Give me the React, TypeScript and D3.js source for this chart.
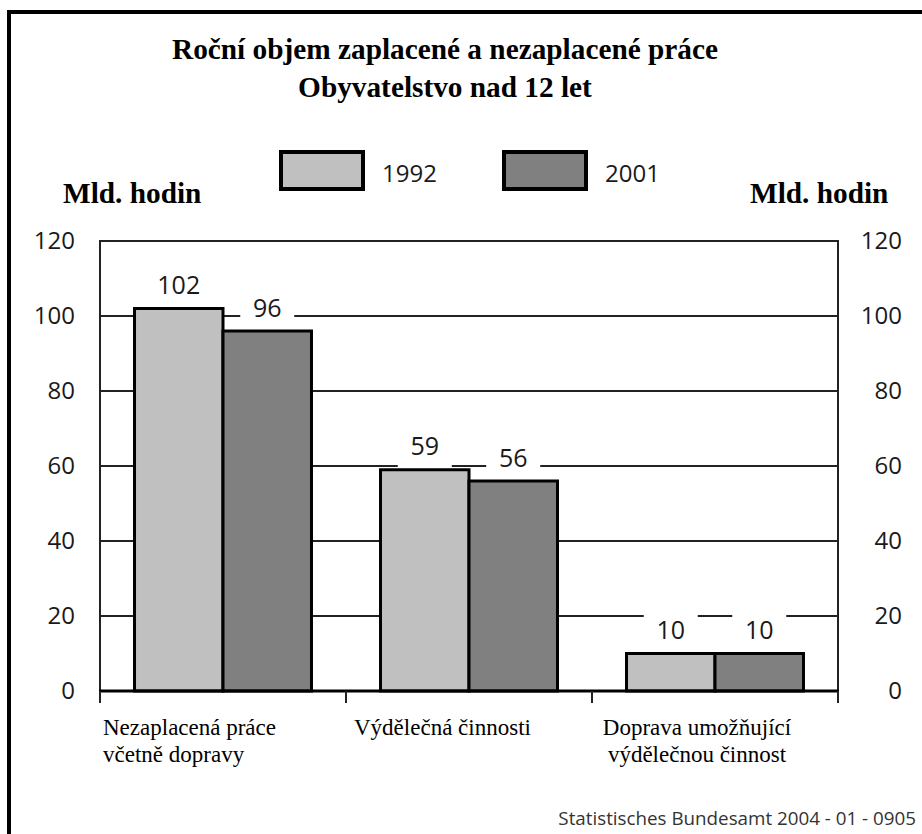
import React from "react";
import * as d3 from "d3";

const categories = [
  ["Nezaplacená práce", "včetně dopravy"],
  ["Výdělečná činnosti"],
  ["Doprava umožňující", "výdělečnou činnost"],
];
const series = ["1992", "2001"];
const values1992 = [102, 59, 10];
const values2001 = [96, 56, 10];
const yTicks = [0, 20, 40, 60, 80, 100, 120];
const titleLines = ["Roční objem zaplacené a nezaplacené práce", "Obyvatelstvo nad 12 let"];
const axisTitle = "Mld. hodin";
const source = "Statistisches Bundesamt 2004 - 01 - 0905";

const W = 922;
const H = 834;
const fills = ["#c0c0c0", "#808080"];
const sans = "'Open Sans', 'Noto Sans', sans-serif";
const serif = "'Liberation Serif', 'Times New Roman', serif";
const ink = "#1a1a1a";

export default function App() {
  const catKeys = categories.map((c) => c.join(" "));
  const x = d3.scaleBand<string>().domain(catKeys).range([100, 838]).padding(0);
  const xi = d3.scaleBand<string>().domain(series).range([0, x.bandwidth()]).paddingInner(0).paddingOuter(0.39);
  const y = d3.scaleLinear().domain([0, 120]).range([691, 241]);
  const data = [values1992, values2001];
  const boundaries = [...catKeys.map((k) => x(k)!), 838];

  const bars: JSX.Element[] = [];
  const labels: JSX.Element[] = [];
  catKeys.forEach((k, ci) => {
    series.forEach((s, si) => {
      const v = data[si][ci];
      const bx = x(k)! + xi(s)!;
      const bw = xi.bandwidth();
      const top = y(v);
      bars.push(
        <rect key={`b${ci}${si}`} x={bx} y={top} width={bw} height={y(0) - top}
          fill={fills[si]} stroke="#000" strokeWidth={3} />
      );
      const cx = bx + bw / 2;
      const base = top - 14.5;
      labels.push(
        <g key={`l${ci}${si}`}>
          <rect x={cx - 27} y={base - 27} width={54} height={top - 2 - (base - 27)} fill="#fff" />
          <text x={cx} y={base} textAnchor="middle" fontFamily={sans} fontSize={25} fill={ink}>{v}</text>
        </g>
      );
    });
  });

  return (
    <svg width={W} height={H} style={{ position: "absolute", left: 0, top: 0, background: "#fff" }}>
      <rect x={0} y={0} width={W} height={H} fill="#fff" />
      <path d={`M9,${H} V12 H${W}`} fill="none" stroke="#000" strokeWidth={4} />

      {titleLines.map((t, i) => (
        <text key={t} x={445} y={59 + i * 38} textAnchor="middle" fontFamily={serif}
          fontWeight="bold" fontSize={29.3} fill="#000">{t}</text>
      ))}

      {series.map((s, i) => (
        <g key={s} transform={`translate(${281 + i * 223},152)`}>
          <rect x={0} y={0} width={82} height={37} fill={fills[i]} stroke="#000" strokeWidth={4} />
          <text x={101} y={30} fontFamily={sans} fontSize={24} fill={ink}>{s}</text>
        </g>
      ))}

      <text x={63} y={203} fontFamily={serif} fontWeight="bold" fontSize={29.3} fill="#000">{axisTitle}</text>
      <text x={750} y={203} fontFamily={serif} fontWeight="bold" fontSize={29.3} fill="#000">{axisTitle}</text>

      {yTicks.filter((t) => t > 0 && t < 120).map((t) => (
        <line key={`g${t}`} x1={100} x2={838} y1={y(t)} y2={y(t)} stroke="#222" strokeWidth={2} />
      ))}
      <path d={`M100,${y(0)} V${y(120)} H838 V${y(0)}`} fill="none" stroke="#222" strokeWidth={2} />

      {bars}
      {labels}

      <line x1={99} x2={839} y1={y(0)} y2={y(0)} stroke="#000" strokeWidth={3} />
      {boundaries.map((b, i) => (
        <line key={`t${i}`} x1={b} x2={b} y1={y(0)} y2={y(0) + 12} stroke="#222" strokeWidth={2} />
      ))}

      {yTicks.map((t) => (
        <g key={`yt${t}`}>
          <text x={75} y={y(t)} dy="0.35em" textAnchor="end" fontFamily={sans} fontSize={24} fill={ink}>{t}</text>
          <text x={902} y={y(t)} dy="0.35em" textAnchor="end" fontFamily={sans} fontSize={24} fill={ink}>{t}</text>
        </g>
      ))}

      {categories.map((lines, ci) => {
        const bx = x(catKeys[ci])!;
        const multi = lines.length > 1 && ci === categories.length - 1;
        return (
          <text key={`c${ci}`} fontFamily={serif} fontSize={23} fill="#000" textAnchor={multi ? "middle" : "start"}>
            {lines.map((ln, li) => (
              <tspan key={li} x={multi ? bx + 105 : bx + (ci === 0 ? 3 : 8)} y={735 + li * 27}>{ln}</tspan>
            ))}
          </text>
        );
      })}

      <text x={916} y={825} textAnchor="end" fontFamily={sans} fontSize={18.8} fill="#333">{source}</text>
    </svg>
  );
}
